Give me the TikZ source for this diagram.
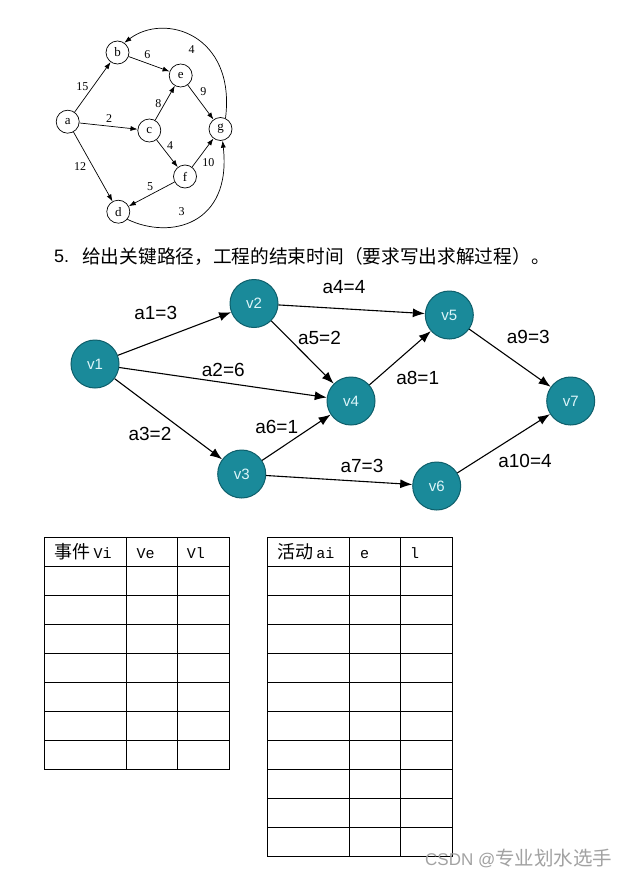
\documentclass[tikz,border=0pt]{standalone}
\usepackage{fontspec}
\setmainfont{Liberation Sans}
\newfontfamily\graphserif{Liberation Serif}
\newfontfamily\cjk{Noto Sans CJK SC}
\newfontfamily\tablemono{Liberation Mono}
\usetikzlibrary{arrows.meta,calc}
\definecolor{nodefill}{HTML}{1A8A9A}
\definecolor{nodeedge}{HTML}{0E5F6B}
\definecolor{nodetext}{HTML}{DDF6FA}
\definecolor{markgray}{HTML}{A2A2A2}

\begin{document}
\begin{tikzpicture}[x=1pt, y=-1pt,
  letternode/.style={circle, draw, line width=0.7pt, minimum size=23pt, inner sep=0pt, font=\graphserif\fontsize{13}{13}\selectfont},
  thinarrow/.style={-{Latex[length=7pt,width=5pt]}, line width=0.7pt},
  weightlabel/.style={font=\graphserif\fontsize{12}{12}\selectfont, inner sep=0pt},
  vnode/.style={circle, fill=nodefill, draw=nodeedge, line width=1pt, minimum size=48pt, inner sep=0pt, text=nodetext, font=\fontsize{15}{15}\selectfont},
  actarrow/.style={-{Latex[length=12pt,width=9pt]}, line width=1.1pt},
  actlabel/.style={font=\fontsize{19}{19}\selectfont, inner sep=0pt},
  tableline/.style={line width=1pt, line cap=rect},
  headtext/.style={anchor=base west, inner sep=0pt}
]
  \useasboundingbox[fill=white] (0,0) rectangle (632,883);

  % small graph
  \node[letternode] (a) at (67.7,121.7) {a};
  \node[letternode] (b) at (117.5,52.5) {b};
  \node[letternode] (e) at (180.7,75.5) {e};
  \node[letternode] (c) at (149.3,130.5) {c};
  \node[letternode] (g) at (220.5,129) {g};
  \node[letternode] (f) at (185,176.5) {f};
  \node[letternode] (d) at (118.3,211.7) {d};

  \draw[thinarrow] (a) -- (b);
  \draw[thinarrow] (a) -- (c);
  \draw[thinarrow] (a) -- (d);
  \draw[thinarrow] (b) -- (e);
  \draw[thinarrow] (c) -- (e);
  \draw[thinarrow] (c) -- (f);
  \draw[thinarrow] (e) -- (g);
  \draw[thinarrow] (f) -- (g);
  \draw[thinarrow] (f) -- (d);
  \draw[thinarrow] (g.65) .. controls (236,35) and (165,12) .. (b.55);
  \draw[thinarrow] (d.-40) .. controls (170,240) and (232,225) .. (g.-80);

  \node[weightlabel] (w15) at (82.3,86.7) {15};
  \node[weightlabel] (w6) at (147.3,55) {6};
  \node[weightlabel] (w4a) at (191.7,50) {4};
  \node[weightlabel] (w8) at (158.3,103.3) {8};
  \node[weightlabel] (w9) at (203.3,91.7) {9};
  \node[weightlabel] (w2) at (109,118.5) {2};
  \node[weightlabel] (w4b) at (170,146) {4};
  \node[weightlabel] (w10) at (208.3,162.7) {10};
  \node[weightlabel] (w12) at (80,166.7) {12};
  \node[weightlabel] (w5) at (150,186.7) {5};
  \node[weightlabel] (w3) at (181.7,211.7) {3};

  % question
  \node[anchor=west, inner sep=0pt, font=\fontsize{18}{18}\selectfont] (qnum) at (54,256) {5.};
  \node[anchor=west, inner sep=0pt, font=\cjk\fontsize{18.7}{18.7}\selectfont] (qtext) at (82,256) {给出关键路径，工程的结束时间（要求写出求解过程）。};

  % activity network
  \node[vnode] (v1) at (95,364) {v1};
  \node[vnode] (v2) at (254,303.5) {v2};
  \node[vnode] (v3) at (241.7,474) {v3};
  \node[vnode] (v4) at (351,401) {v4};
  \node[vnode] (v5) at (449.3,315) {v5};
  \node[vnode] (v6) at (436.7,486) {v6};
  \node[vnode] (v7) at (570.7,401) {v7};

  \draw[actarrow] (v1) -- (v2);
  \draw[actarrow] (v1) -- (v4);
  \draw[actarrow] (v1) -- (v3);
  \draw[actarrow] (v2) -- (v5);
  \draw[actarrow] (v2) -- (v4);
  \draw[actarrow] (v3) -- (v4);
  \draw[actarrow] (v3) -- (v6);
  \draw[actarrow] (v4) -- (v5);
  \draw[actarrow] (v5) -- (v7);
  \draw[actarrow] (v6) -- (v7);

  \node[actlabel] (l1) at (155.7,313) {a1=3};
  \node[actlabel] (l2) at (223.3,370) {a2=6};
  \node[actlabel] (l3) at (150,434) {a3=2};
  \node[actlabel] (l4) at (344,287.5) {a4=4};
  \node[actlabel] (l5) at (319.5,338) {a5=2};
  \node[actlabel] (l6) at (276.7,427) {a6=1};
  \node[actlabel] (l7) at (362,466) {a7=3};
  \node[actlabel] (l8) at (417.7,377.5) {a8=1};
  \node[actlabel] (l9) at (528.3,337) {a9=3};
  \node[actlabel] (l10) at (525,461) {a10=4};

  % event table
  \foreach \r in {0,...,8} {
    \pgfmathsetmacro{\y}{537.5+\r*29}
    \draw[tableline] (44.5,\y) -- (229.5,\y);
  }
  \foreach \x in {44.5,126.5,177.5,229.5}
    \draw[tableline] (\x,537.5) -- (\x,769.5);
  \node[headtext] (evhead) at (54.7,558) {{\cjk\fontsize{18}{18}\selectfont 事件} {\tablemono\fontsize{15}{15}\selectfont Vi}};
  \node[headtext, font=\tablemono\fontsize{15}{15}\selectfont] (vehead) at (136.3,558) {Ve};
  \node[headtext, font=\tablemono\fontsize{15}{15}\selectfont] (vlhead) at (186.7,558) {Vl};

  % activity table
  \foreach \r in {0,...,11} {
    \pgfmathsetmacro{\y}{537.5+\r*29}
    \draw[tableline] (267.5,\y) -- (452.5,\y);
  }
  \foreach \x in {267.5,349.5,400.5,452.5}
    \draw[tableline] (\x,537.5) -- (\x,856.5);
  \node[headtext] (achead) at (277.3,558) {{\cjk\fontsize{18}{18}\selectfont 活动} {\tablemono\fontsize{15}{15}\selectfont ai}};
  \node[headtext, font=\tablemono\fontsize{15}{15}\selectfont] (ehead) at (360,558) {e};
  \node[headtext, font=\tablemono\fontsize{15}{15}\selectfont] (lhead) at (410,558) {l};

  % watermark
  \node[anchor=base west, inner sep=0pt, text=markgray] (mark) at (425,865) {{\fontsize{17}{17}\selectfont CSDN @}{\cjk\fontsize{19.5}{19.5}\selectfont 专业划水选手}};
\end{tikzpicture}
\end{document}
